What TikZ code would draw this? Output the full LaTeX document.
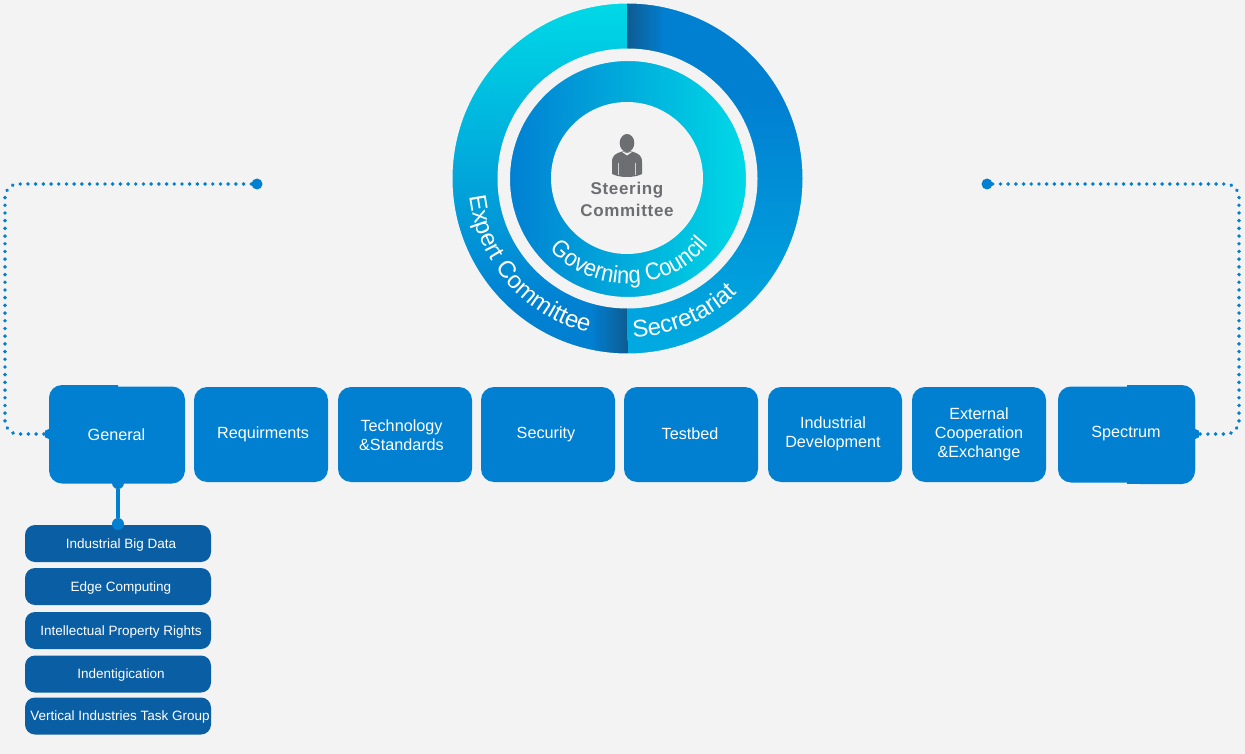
\documentclass[tikz,border=0pt]{standalone}
\usepackage{fontspec}
\setmainfont{Liberation Sans}
\newfontfamily\steerfont[LetterSpace=4]{Liberation Sans}
\newfontfamily\gcfont[FakeStretch=0.91]{Liberation Sans}
\usetikzlibrary{decorations.text}
\definecolor{bgc}{HTML}{F3F3F3}
\definecolor{boxblue}{HTML}{0180D2}
\definecolor{subblue}{HTML}{0A5FA4}
\definecolor{cyanc}{HTML}{00D9E6}
\definecolor{midc}{HTML}{00A9E0}
\definecolor{darkc}{HTML}{0E5C92}
\definecolor{greyc}{HTML}{6D6E71}
\tikzset{x=1pt,y=1pt,
  mainbox/.style={fill=boxblue,rounded corners=13pt,inner sep=0pt,text=white,align=center,
    font=\fontsize{16.2}{19}\selectfont},
  boxtext/.style={text=white,align=center,inner sep=0pt,font=\fontsize{16.2}{19}\selectfont},
  subbox/.style={fill=subblue,rounded corners=10pt,inner sep=0pt,minimum width=186pt,minimum height=37pt,
    text=white,font=\fontsize{13.5}{17}\selectfont,text height=11.5pt,text depth=2pt},
  enddot/.style={circle,fill=boxblue,inner sep=0pt,minimum size=#1},
  dotline/.style={draw=boxblue,line width=3.8pt,line cap=round,dash pattern=on 0.1pt off 7.6pt,rounded corners=13pt}
}
\begin{document}
\begin{tikzpicture}
\useasboundingbox (0,0) rectangle (1245,-754);
\fill[bgc] (0,0) rectangle (1245,-754);
% outer ring
\begin{scope}
  \clip (627.5,-178.5) circle[radius=177];
  \shade[top color=cyanc,bottom color=boxblue] (445,-3) rectangle (627.5,-305);
  \fill[boxblue] (445,-304) rectangle (627.5,-360);
  \shade[left color=boxblue,right color=darkc] (590,-300) rectangle (627.5,-360);
  \shade[top color=boxblue,bottom color=midc] (627.5,-100) rectangle (810,-340);
  \fill[boxblue] (627.5,0) rectangle (810,-101);
  \fill[midc] (627.5,-339) rectangle (810,-360);
  \shade[left color=darkc,right color=boxblue] (627.5,0) rectangle (665,-60);
\end{scope}
\draw[bgc,line width=5pt] (627.5,-178.5) circle[radius=177.5];
\fill[bgc] (627.5,-178.5) circle[radius=130];
% inner ring
\begin{scope}
  \clip (628,-179) circle[radius=120];
  \shade[left color=boxblue,right color=cyanc] (510,-55) rectangle (746,-303);
  \fill[boxblue] (500,-55) rectangle (510.5,-303);
  \fill[cyanc] (745.5,-55) rectangle (756,-303);
\end{scope}
\draw[bgc,line width=5pt] (628,-179) circle[radius=120.5];
\fill[bgc] (627,-178) circle[radius=76];
% person
\fill[greyc] (627,-143) ellipse[x radius=7.3,y radius=9];
\fill[greyc] (612,-174) -- (612,-162) .. controls (612,-155) and (616,-153.5) .. (622,-151.5)
  -- (632,-151.5) .. controls (638,-153.5) and (642,-155) .. (642,-162) -- (642,-174)
  .. controls (634,-178) and (620,-178) .. (612,-174) -- cycle;
\fill[bgc] (621.5,-151.5) -- (627,-155.5) -- (632.5,-151.5) -- (627,-153) -- cycle;
\draw[bgc!75!greyc,line width=0.8pt] (618.5,-163) -- (618.5,-175.5);
\draw[bgc!75!greyc,line width=0.8pt] (635.5,-163) -- (635.5,-175.5);
\node[text=greyc,align=center,inner sep=0pt,font=\steerfont\bfseries\fontsize{17}{22}\selectfont] (steering) at (627,-199.6) {Steering\\Committee};
% ring labels
\path[decorate,decoration={text along path,text align={left},
  text={|\fontsize{24}{24}\selectfont\color{white}|Expert Committee}}]
  (627.5,-178.5) ++(186.5:159) arc[start angle=186.5,end angle=262,radius=159];
\path[decorate,decoration={text along path,text align={left},
  text={|\gcfont\fontsize{24}{24}\selectfont\color{white}|Governing Council}}]
  (627.5,-178.5) ++(222.5:105) arc[start angle=222.5,end angle=345,radius=105];
\path[decorate,decoration={text along path,text align={left},
  text={|\fontsize{24}{24}\selectfont\color{white}|Secretariat}}]
  (627.5,-178.5) ++(272:159) arc[start angle=272,end angle=320,radius=159];
% main boxes
\fill[boxblue,rounded corners=13pt] (118,-385) -- (49,-385) -- (49,-440) -- (118,-440) [sharp corners] -- cycle;
\fill[boxblue] (118,-385) rectangle (100,-400);
\fill[boxblue,rounded corners=13pt] (1127,-385) -- (1195,-385) -- (1195,-484) -- (1127,-484) [sharp corners] -- cycle;
\fill[boxblue] (1127,-385) rectangle (1145,-400);
\fill[boxblue] (1127,-484) rectangle (1145,-470);
\node[mainbox,minimum width=136pt,minimum height=97pt] (general) at (117,-435) {};
\node[boxtext] (generalt) at (116.5,-434.5) {General};
\node[mainbox,minimum width=134pt,minimum height=95pt] (req) at (261,-434.5) {};
\node[boxtext] (reqt) at (263,-434) {Requirments};
\node[mainbox,minimum width=134pt,minimum height=95pt] (tech) at (405,-434.5) {};
\node[boxtext] (techt) at (401.5,-435) {Technology\\\&Standards};
\node[mainbox,minimum width=134pt,minimum height=95pt] (sec) at (548,-434.5) {};
\node[boxtext] (sect) at (546,-434) {Security};
\node[mainbox,minimum width=134pt,minimum height=95pt] (test) at (691,-434.5) {};
\node[boxtext] (testt) at (690,-434) {Testbed};
\node[mainbox,minimum width=134pt,minimum height=95pt] (ind) at (835,-434.5) {};
\node[boxtext] (indt) at (833,-433.5) {Industrial\\Development};
\node[mainbox,minimum width=134pt,minimum height=95pt] (ext) at (979,-434.5) {};
\node[boxtext] (extt) at (979,-434) {External\\Cooperation\\\&Exchange};
\node[mainbox,minimum width=137pt,minimum height=96pt] (spec) at (1126.5,-434.5) {};
\node[boxtext] (spect) at (1126,-434) {Spectrum};
% sub boxes
\node[subbox] (s1) at (118,-543.5) {\hspace*{6pt}Industrial Big Data};
\node[subbox] (s2) at (118,-586.5) {\hspace*{6pt}Edge Computing};
\node[subbox] (s3) at (118,-630.5) {\hspace*{6pt}Intellectual Property Rights};
\node[subbox] (s4) at (118,-674) {\hspace*{6pt}Indentigication};
\node[subbox] (s5) at (118,-716) {\hspace*{4pt}Vertical Industries Task Group};
% connectors
\node[enddot=11pt] (dl) at (257,-184) {};
\node[enddot=11pt] (dr) at (987,-184) {};
\node[enddot=10pt] (gl) at (49,-434) {};
\node[enddot=10pt] (sr) at (1195,-434) {};
\node[enddot=12pt] (gb) at (118,-483) {};
\node[enddot=12pt] (st) at (118,-524) {};
\coordinate (c1) at (5,-184);
\coordinate (c2) at (5,-434);
\coordinate (c3) at (1239,-184);
\coordinate (c4) at (1239,-434);
\draw[dotline] (dl) -- (c1) -- (c2) -- (gl);
\draw[dotline] (dr) -- (c3) -- (c4) -- (sr);
\draw[boxblue,line width=3.6pt] (gb) -- (st);
\end{tikzpicture}
\end{document}
